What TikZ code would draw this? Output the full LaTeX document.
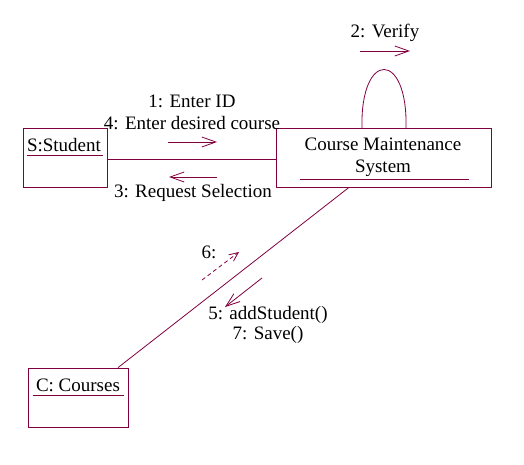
\documentclass[tikz,border=0pt]{standalone}
\usepackage{fontspec}
\setmainfont{Liberation Serif}
\usetikzlibrary{arrows.meta}
\definecolor{umlrot}{RGB}{128,0,64}
\tikzset{
  Objekt/.style={draw=umlrot,line width=.8pt,rectangle,inner sep=0pt}, % Objektkasten
  Name/.style={inner sep=1pt,align=center},                           % Texte
  Linie/.style={draw=umlrot,line width=.8pt},                          % Verbindungen
  Nachricht/.style={umlrot,line width=.8pt,-{Straight Barb[length=14pt,width=10pt]}} % Nachrichtenpfeile
}
\begin{document}
\begin{tikzpicture}[x=1pt,y=-1pt,
font=\fontsize{19}{22}\selectfont
]
\useasboundingbox (0,0) rectangle (524,465);

%Objekte
\node[Objekt,minimum width=84pt,minimum height=59pt] (stu) at (65,157.5) {};
\node[Objekt,minimum width=215pt,minimum height=59pt] (cms) at (383.5,157.5) {};
\node[Objekt,minimum width=100pt,minimum height=59pt] (crs) at (78,397.5) {};

\node[Name] (stuN) at (64,145) {S:Student};
\node[Name] (cmsN) at (383,157) {Course Maintenance\\System};
\node[Name] (crsN) at (78,385) {C: Courses};

%Unterstreichungen
\draw[Linie] ([shift={(4pt,-28pt)}]stu.north west) -- ([shift={(-4pt,-28pt)}]stu.north east);
\draw[Linie] ([shift={(24pt,-52pt)}]cms.north west) -- ([shift={(-22pt,-52pt)}]cms.north east);
\draw[Linie] ([shift={(5pt,-28pt)}]crs.north west) -- ([shift={(-4pt,-28pt)}]crs.north east);

%Verbindungen
\coordinate (linkS) at (107,159);
\coordinate (linkC) at (276,159);
\coordinate (loopL) at (362,128);
\coordinate (loopR) at (406,128);
\draw[Linie] (linkS) -- (linkC);
\draw[Linie] (loopL) .. controls (360,50) and (408,50) .. (loopR);
\draw[Linie] ([xshift=-34.5pt]cms.south) -- ([xshift=40pt]crs.north);

%Nachrichten
\coordinate (m1a) at (168,142); \coordinate (m1b) at (217,142);
\coordinate (m3a) at (217,177); \coordinate (m3b) at (169,177);
\coordinate (m2a) at (360,51);  \coordinate (m2b) at (410,51);
\coordinate (m6a) at (202,280); \coordinate (m6b) at (239,252);
\coordinate (m5a) at (262,278); \coordinate (m5b) at (225,307);
\draw[Nachricht] (m1a) -- (m1b);
\draw[Nachricht] (m3a) -- (m3b);
\draw[Nachricht] (m2a) -- (m2b);
\draw[Nachricht,dash pattern=on 4pt off 3pt,-{Straight Barb[length=9pt,width=8pt]}] (m6a) -- (m6b);
\draw[Nachricht] (m5a) -- (m5b);

%Beschriftungen
\node[Name] (n1) at (192,112) {1: Enter ID\\4: Enter desired course};
\node[Name] (n3) at (193,193) {3: Request Selection};
\node[Name] (n2) at (385,33) {2: Verify};
\node[Name] (n6) at (209,252) {6:};
\node[Name,font=\fontsize{19}{20}\selectfont] (n5) at (268,325) {5: addStudent()\\7: Save()};

\end{tikzpicture}
\end{document}
